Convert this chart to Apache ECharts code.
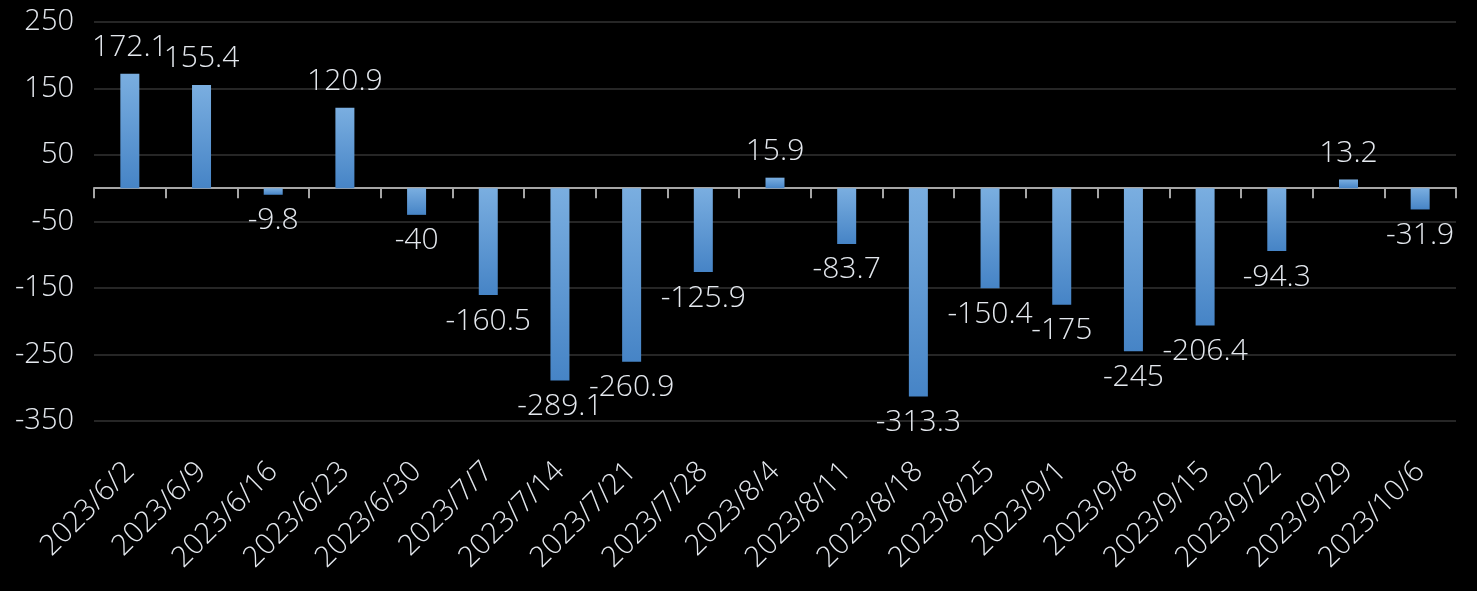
<!DOCTYPE html>
<html>
<head>
<meta charset="utf-8">
<script src="https://cdn.jsdelivr.net/npm/echarts@6/dist/echarts.min.js"></script>
<style>
  html, body { margin: 0; padding: 0; background: #000; }
  #chart { width: 1477px; height: 591px; }
</style>
</head>
<body>
<div id="chart"></div>
<script>
// 数据
const dates = ['2023/6/2', '2023/6/9', '2023/6/16', '2023/6/23', '2023/6/30', '2023/7/7', '2023/7/14',
  '2023/7/21', '2023/7/28', '2023/8/4', '2023/8/11', '2023/8/18', '2023/8/25', '2023/9/1',
  '2023/9/8', '2023/9/15', '2023/9/22', '2023/9/29', '2023/10/6'];
const values = [172.1, 155.4, -9.8, 120.9, -40, -160.5, -289.1, -260.9, -125.9, 15.9, -83.7,
  -313.3, -150.4, -175, -245, -206.4, -94.3, 13.2, -31.9];
const yMin = -350;
const yMax = 250;
const yStep = 100;

const textColor = '#e4e8ee';
const fontFamily = 'Open Sans, Noto Sans, sans-serif';

const chart = echarts.init(document.getElementById('chart'));

const option = {
  animation: false,
  backgroundColor: '#000',
  grid: {
    left: 94,
    right: 21,
    top: 22,
    bottom: 170
  },
  xAxis: [{
    type: 'category',
    data: dates,
    position: 'bottom',
    axisLine: { show: false, onZero: false },
    axisTick: { show: false },
    axisLabel: {
      rotate: 45,
      margin: 46,
      color: textColor,
      fontSize: 29,
      fontWeight: 350,
      fontFamily: fontFamily,
      interval: 0
    }
  }, {
    // 零轴线
    type: 'category',
    data: dates,
    position: 'bottom',
    axisLine: { show: true, onZero: true, lineStyle: { color: '#a6a6a6', width: 2 } },
    axisTick: { show: true, length: 10, lineStyle: { color: '#a6a6a6', width: 2 } },
    axisLabel: { show: false }
  }],
  yAxis: {
    type: 'value',
    min: yMin,
    max: yMax,
    interval: yStep,
    axisLine: { show: false },
    axisTick: { show: false },
    axisLabel: {
      margin: 20,
      color: textColor,
      fontSize: 29,
      fontWeight: 350,
      fontFamily: fontFamily
    },
    splitLine: { lineStyle: { color: '#262626', width: 2 } }
  },
  series: [{
    type: 'bar',
    barWidth: 19,
    data: values.map(v => ({
      value: v,
      label: { position: v >= 0 ? 'top' : 'bottom' }
    })),
    itemStyle: {
      color: new echarts.graphic.LinearGradient(0, 0, 0, 1, [
        { offset: 0, color: '#7aaee0' },
        { offset: 1, color: '#4684c6' }
      ])
    },
    label: {
      show: true,
      distance: 11,
      color: textColor,
      fontSize: 30,
      fontWeight: 350,
      fontFamily: fontFamily
    }
  }]
};

chart.setOption(option);
</script>
</body>
</html>
